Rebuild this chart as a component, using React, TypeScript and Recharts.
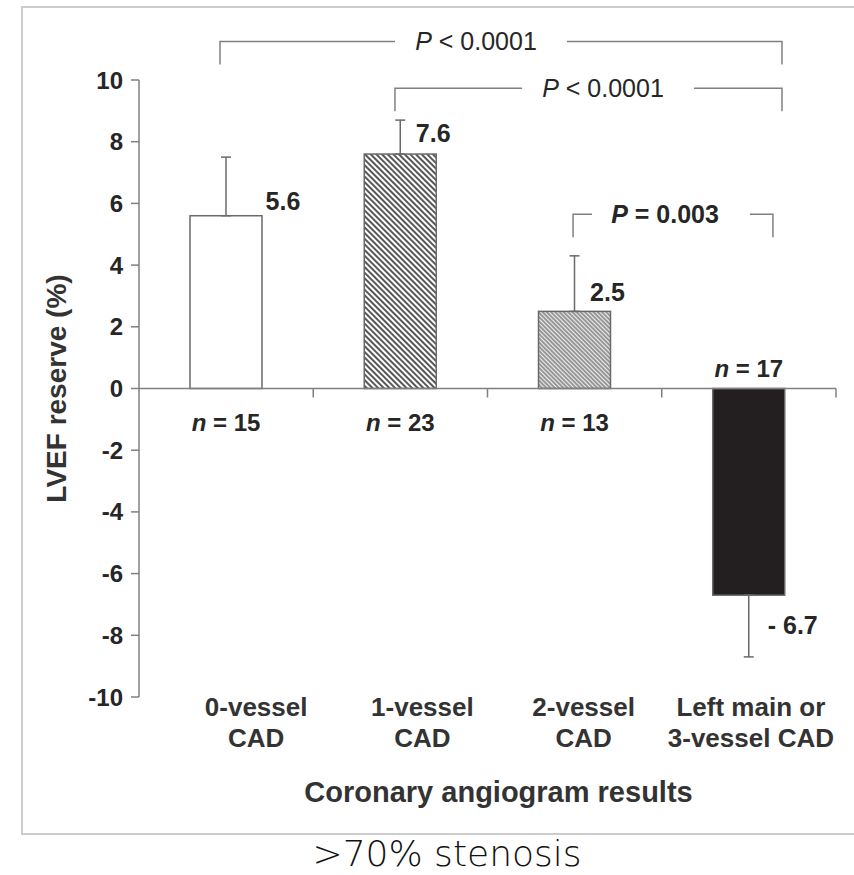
// LVEF reserve by coronary angiogram result — bar chart with error bars,
// n-counts and significance brackets.

import React from "react";
import { BarChart, Bar, XAxis, YAxis, ErrorBar, ReferenceLine, Label } from "recharts";

// ── Data ─────────────────────────────────────────────────────────────────────

const CATEGORIES = [
  ["0-vessel", "CAD"],
  ["1-vessel", "CAD"],
  ["2-vessel", "CAD"],
  ["Left main or", "3-vessel CAD"],
];
const VALUES = [5.6, 7.6, 2.5, -6.7];
const ERR_LOW = [0, 0, 0, 2.0];
const ERR_HIGH = [1.9, 1.1, 1.8, 0];
const N_COUNTS = [15, 23, 13, 17];
const Y_TICKS = [-10, -8, -6, -4, -2, 0, 2, 4, 6, 8, 10];

const P_LABELS = ["P < 0.0001", "P < 0.0001", "P = 0.003"];
const P_LEVELS = [11.25, 9.73, 5.65];

// ── Styling ──────────────────────────────────────────────────────────────────

const FONT = "'Liberation Sans', Arial, Helvetica, sans-serif";
const GRAY = "#808080";
const INK = "#262626";
const FILLS = ["#ffffff", "url(#hatchDense)", "url(#hatchFine)", "#231f20"];

// value-label offsets from bar centre / bar end (px)
const VALUE_POS = [
  { dx: 57, dy: -15 },
  { dx: 33, dy: -21 },
  { dx: 33, dy: -19 },
  { dx: 44, dy: 30 },
];
// category label shift from band centre (px)
const LABEL_DX = [30, 22, 9, 2];

// bracket geometry in category units (0 = plot left, 4 = plot right)
const BRACKETS = [
  { from: 0.465, to: 3.69, gapL: 1.469, gapR: 2.456, text: 1.934, bold: false },
  { from: 1.469, to: 3.69, gapL: 2.198, gapR: 3.185, text: 2.663, bold: false },
  { from: 2.491, to: 3.638, gapL: 2.6, gapR: 3.506, text: 3.019, bold: true },
];

const data = CATEGORIES.map((c, i) => ({
  name: c.join(" "),
  value: VALUES[i],
  err: [ERR_LOW[i], ERR_HIGH[i]],
}));

// ── Custom pieces ────────────────────────────────────────────────────────────

function BarShape(props: any) {
  const { x, y, width, height, index } = props;
  const top = Math.min(y, y + height);
  const h = Math.abs(height);
  const zeroY = y + height;
  const v = VALUES[index];
  const cx = x + width / 2;
  const pos = VALUE_POS[index];
  const valueText = v < 0 ? `- ${Math.abs(v).toFixed(1)}` : v.toFixed(1);
  const nY = v >= 0 ? zeroY + 33 : zeroY - 21;

  return (
    <g>
      <rect x={x} y={top} width={width} height={h} fill={FILLS[index]} stroke="#6a6a6a" strokeWidth={1.5} />
      <text
        x={cx + pos.dx}
        y={y + pos.dy}
        textAnchor="middle"
        dominantBaseline="central"
        fontSize={25}
        fontWeight={700}
        fill={INK}
      >
        {valueText}
      </text>
      <text x={cx} y={nY} textAnchor="middle" dominantBaseline="central" fontSize={24} fontWeight={700} fill={INK}>
        <tspan fontStyle="italic">n</tspan>
        <tspan>{` = ${N_COUNTS[index]}`}</tspan>
      </text>
    </g>
  );
}

function CategoryTick(props: any) {
  const { x, y, payload } = props;
  const i = payload.index;
  const lines = CATEGORIES[i];
  return (
    <g>
      {lines.map((line, k) => (
        <text
          key={k}
          x={x + LABEL_DX[i]}
          y={y + 10 + k * 31}
          textAnchor="middle"
          dominantBaseline="central"
          fontSize={26}
          fontWeight={700}
          fill="#333"
        >
          {line}
        </text>
      ))}
    </g>
  );
}

// zero line with category-boundary ticks
function ZeroLine(props: any) {
  const { x1, x2, y1 } = props;
  if (x1 == null) return <g />;
  const band = (x2 - x1) / CATEGORIES.length;
  return (
    <g>
      <line x1={x1} y1={y1} x2={x2} y2={y1} stroke={GRAY} strokeWidth={1.5} />
      {CATEGORIES.map((_, k) => (
        <line key={k} x1={x1 + band * (k + 1)} y1={y1} x2={x1 + band * (k + 1)} y2={y1 + 9} stroke={GRAY} strokeWidth={1.5} />
      ))}
    </g>
  );
}

function makeBracket(i: number) {
  return (props: any) => {
    const { x1, x2, y1 } = props;
    if (x1 == null) return <g />;
    const band = (x2 - x1) / CATEGORIES.length;
    const b = BRACKETS[i];
    const px = (u: number) => x1 + band * u;
    const label = P_LABELS[i];
    return (
      <g>
        <polyline
          points={`${px(b.from)},${y1 + 23} ${px(b.from)},${y1} ${px(b.gapL)},${y1}`}
          fill="none"
          stroke={GRAY}
          strokeWidth={1.5}
        />
        <polyline
          points={`${px(b.gapR)},${y1} ${px(b.to)},${y1} ${px(b.to)},${y1 + 23}`}
          fill="none"
          stroke={GRAY}
          strokeWidth={1.5}
        />
        <text
          x={px(b.text)}
          y={y1}
          textAnchor="middle"
          dominantBaseline="central"
          fontSize={25}
          fontWeight={b.bold ? 700 : 400}
          fill={INK}
        >
          <tspan fontStyle="italic">{label.charAt(0)}</tspan>
          <tspan>{label.slice(1)}</tspan>
        </text>
      </g>
    );
  };
}

function YTitle(props: any) {
  const vb = props.viewBox || {};
  const cy = (vb.y ?? 80) + (vb.height ?? 617) / 2;
  return (
    <text
      x={0}
      y={0}
      transform={`translate(56, ${cy}) rotate(-90)`}
      textAnchor="middle"
      dominantBaseline="central"
      fontSize={28}
      fontWeight={700}
      fill="#333"
    >
      LVEF reserve (%)
    </text>
  );
}

// ── Main ─────────────────────────────────────────────────────────────────────

export default function App() {
  return (
    <div style={{ position: "absolute", left: 0, top: 0, width: 854, height: 875, overflow: "hidden", background: "#fff", fontFamily: FONT }}>
      <div
        style={{
          position: "absolute",
          left: 21,
          top: 6,
          width: 900,
          height: 825,
          border: "2px solid #cccccc",
        }}
      />
      <div style={{ position: "absolute", left: 0, top: 0 }}>
        <BarChart
          width={854}
          height={875}
          data={data}
          margin={{ top: 80, right: 18, bottom: 98, left: 79 }}
          barCategoryGap={0}
          style={{ fontFamily: FONT }}
        >
          <defs>
            <pattern id="hatchDense" width={4} height={4} patternUnits="userSpaceOnUse" patternTransform="rotate(-45)">
              <rect width={4} height={4} fill="#ffffff" />
              <line x1={1} y1={0} x2={1} y2={4} stroke="#3a3a3a" strokeWidth={1.7} />
            </pattern>
            <pattern id="hatchFine" width={3} height={3} patternUnits="userSpaceOnUse" patternTransform="rotate(-45)">
              <rect width={3} height={3} fill="#eeeeee" />
              <line x1={1} y1={0} x2={1} y2={3} stroke="#5e5e5e" strokeWidth={1.2} />
            </pattern>
          </defs>
          <XAxis
            dataKey="name"
            axisLine={false}
            tickLine={false}
            tickSize={0}
            tickMargin={0}
            height={80}
            interval={0}
            tick={<CategoryTick />}
          >
            <Label
              value="Coronary angiogram results"
              position="bottom"
              offset={4}
              dx={11}
              fontSize={29}
              fontWeight={700}
              fill="#333"
            />
          </XAxis>
          <YAxis
            domain={[-10, 10]}
            ticks={Y_TICKS}
            interval={0}
            width={60}
            tickSize={8}
            tickMargin={8}
            axisLine={{ stroke: GRAY, strokeWidth: 1.5 }}
            tickLine={{ stroke: GRAY, strokeWidth: 1.5 }}
            tick={{ fontSize: 24, fontWeight: 700, fill: INK }}
          >
            <Label content={<YTitle />} />
          </YAxis>
          <Bar dataKey="value" barSize={72} isAnimationActive={false} shape={<BarShape />}>
            <ErrorBar dataKey="err" width={5} stroke="#6a6a6a" strokeWidth={1.5} direction="y" isAnimationActive={false} />
          </Bar>
          <ReferenceLine y={0} ifOverflow="visible" shape={<ZeroLine />} />
          {P_LEVELS.map((lvl, i) => {
            const Shape = makeBracket(i);
            return <ReferenceLine key={i} y={lvl} ifOverflow="visible" shape={<Shape />} />;
          })}
        </BarChart>
      </div>
      <div
        style={{
          position: "absolute",
          left: 0,
          width: 894,
          top: 836,
          textAlign: "center",
          fontFamily: "'DejaVu Sans', sans-serif",
          fontWeight: 200,
          fontSize: 36,
          lineHeight: "36px",
          color: "#111",
        }}
      >
        &gt;70% stenosis
      </div>
    </div>
  );
}
